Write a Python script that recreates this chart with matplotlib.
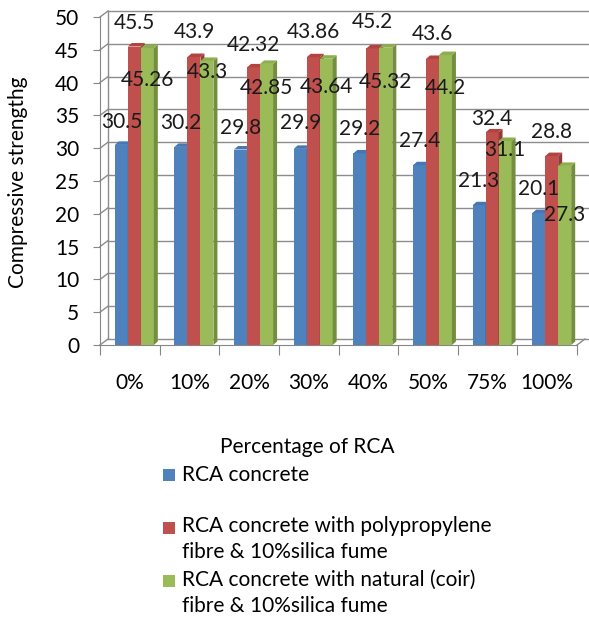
import matplotlib
matplotlib.use('Agg')
import matplotlib.pyplot as plt
from matplotlib.patches import Polygon, Rectangle

plt.rcParams['font.family'] = ['Lato', 'DejaVu Sans']

# Data
categories = ['0%', '10%', '20%', '30%', '40%', '50%', '75%', '100%']
rca = [30.5, 30.2, 29.8, 29.9, 29.2, 27.4, 21.3, 20.1]
rca_pp = [45.5, 43.9, 42.32, 43.86, 45.2, 43.6, 32.4, 28.8]
rca_coir = [45.26, 43.3, 42.85, 43.64, 45.32, 44.2, 31.1, 27.3]
series = [rca, rca_pp, rca_coir]
series_names = ['RCA concrete',
                'RCA concrete with polypropylene\nfibre & 10%silica fume',
                'RCA concrete with natural (coir)\nfibre & 10%silica fume']

colors = ['#4F81BD', '#C0504D', '#9BBB59']
side_colors = ['#3A6393', '#923B39', '#748E40']
top_colors = ['#4677B2', '#B4433F', '#8EAE4D']

# where Excel put the value labels (pixels above the bar top)
label_dy = [
    [23, 24, 22, 26, 24, 24, 24, 24],
    [24, 25, 22, 25, 26, 25, 13, 24],
    [-32, -11, -24, -28, -34, -33, -9, -49],
]

FS = 15
W, H = 589, 618
fig = plt.figure(figsize=(W / 100, H / 100), dpi=100)
ax = fig.add_axes([100 / W, 1 - 345 / H, 477 / W, 328 / H])
n = len(categories)
ax.set_xlim(0, n)
ax.set_ylim(0, 50)

ux = n / 477      # data units per pixel (x)
uy = 50 / 328     # data units per pixel (y)
wall_dx, wall_dy = 8 * ux, 6 * uy
grid_c = '#8C8C8C'

# back wall + side wall gridlines
for v in range(0, 55, 5):
    ax.plot([wall_dx, n + wall_dx + 3 * ux], [v + wall_dy] * 2, color=grid_c, lw=1, clip_on=False, zorder=1)
    ax.plot([0, wall_dx], [v, v + wall_dy], color=grid_c, lw=1, clip_on=False, zorder=1)
ax.plot([wall_dx, wall_dx], [wall_dy, 50 + wall_dy], color=grid_c, lw=1, clip_on=False, zorder=1)
ax.plot([n, n + wall_dx], [0, wall_dy], color=grid_c, lw=1, clip_on=False, zorder=1)

# bars with a fake 3d look
bar_w = 13 * ux
shift = 4.5 * ux
bdx, bdy = 4 * ux, 3.5 * uy
for i in range(n):
    for s, vals in enumerate(series):
        v = vals[i]
        x0 = i + 0.5 - 1.5 * bar_w + s * bar_w + shift
        ax.bar(x0, v, width=bar_w, align='edge', color=colors[s], lw=0, zorder=3 + s)
        side = Polygon([(x0 + bar_w, 0), (x0 + bar_w + bdx, bdy), (x0 + bar_w + bdx, v + bdy), (x0 + bar_w, v)],
                       closed=True, color=side_colors[s], lw=0, zorder=3 + s)
        top = Polygon([(x0, v), (x0 + bar_w, v), (x0 + bar_w + bdx, v + bdy), (x0 + bdx, v + bdy)],
                      closed=True, color=top_colors[s], lw=0, zorder=3 + s)
        ax.add_patch(side)
        ax.add_patch(top)
        ax.annotate(f'{v}', xy=(x0 + bar_w / 2, v), xytext=(0, label_dy[s][i]),
                    textcoords='offset pixels', ha='center', va='center',
                    fontsize=FS, color='#1a1a1a', zorder=10, annotation_clip=False)

# axes styling
for sp in ['top', 'right']:
    ax.spines[sp].set_visible(False)
for sp in ['left', 'bottom']:
    ax.spines[sp].set_color('#868686')
    ax.spines[sp].set_zorder(2)
ax.set_yticks(range(0, 55, 5))
ax.tick_params(axis='y', length=5, color='#868686', pad=10, labelsize=FS)
ax.set_xticks(range(0, n + 1))
ax.set_xticklabels([])
ax.tick_params(axis='x', which='major', length=7, color='#868686')
ax.set_xticks([i + 0.5 for i in range(n)], minor=True)
ax.set_xticklabels(categories, minor=True)
ax.tick_params(axis='x', which='minor', length=0, pad=20, labelsize=FS)
ax.patch.set_alpha(0)

fig.text(18 / W, 1 - 182 / H, 'Compressive strengthg', rotation=90, ha='center', va='center', fontsize=FS)
fig.text(307 / W, 1 - 447 / H, 'Percentage of RCA', ha='center', va='center', fontsize=FS)

# legend drawn by hand
first_line = [475, 526, 580]
sq_y = [469, 522, 575]
for s, name in enumerate(series_names):
    fig.add_artist(Rectangle((163 / W, 1 - (sq_y[s] + 12) / H), 12 / W, 12 / H,
                             transform=fig.transFigure, color=colors[s], lw=0))
    for k, line in enumerate(name.split('\n')):
        fig.text(182 / W, 1 - (first_line[s] + 26 * k) / H, line, ha='left', va='center', fontsize=FS)

fig.savefig('out.png', dpi=100)
